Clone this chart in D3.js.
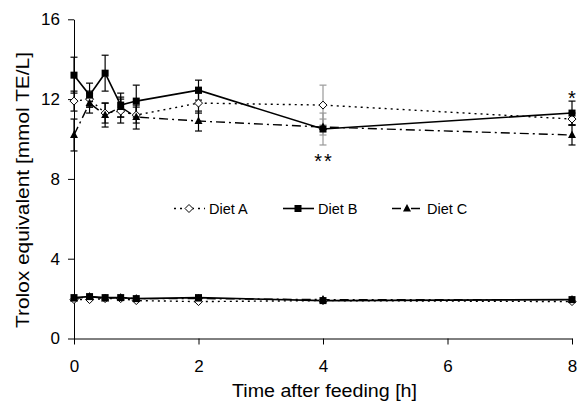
<!DOCTYPE html>
<html>
<head>
<meta charset="utf-8">
<script src="https://cdn.jsdelivr.net/npm/d3@7"></script>
<style>
  body { margin: 0; background: #fff; }
  svg { font-family: "Liberation Sans", Arial, sans-serif; }
</style>
</head>
<body>
<div id="chart"></div>
<script>
// time points (h)
var times = [0, 0.25, 0.5, 0.75, 1, 2, 4, 8]

// upper curves
var dietA_hi = [11.9, 12.0, 11.3, 11.4, 11.2, 11.8, 11.7, 11.0]
var dietB_hi = [13.2, 12.2, 13.3, 11.7, 11.9, 12.45, 10.5, 11.3]
var dietC_hi = [10.2, 11.8, 11.2, 11.6, 11.1, 10.9, 10.6, 10.2]
var errA_hi = [0.5, 0.4, 0.5, 0.6, 0.4, 0.5, 1.0, 0.3]
var errB_hi = [0.9, 0.6, 0.9, 0.6, 0.8, 0.5, 0.8, 0.6]
var errC_hi = [0.8, 0.5, 0.6, 0.5, 0.6, 0.5, 0.4, 0.5]

// lower curves
var dietA_lo = [1.95, 1.95, 2.0, 2.0, 1.9, 1.85, 1.9, 1.85]
var dietB_lo = [2.05, 2.1, 2.05, 2.05, 2.0, 2.05, 1.9, 1.95]
var dietC_lo = [2.0, 2.1, 2.0, 2.05, 2.0, 2.0, 1.95, 1.95]

var xTicks = [0, 2, 4, 6, 8]
var yTicks = [0, 4, 8, 12, 16]
var dietNames = ["Diet A", "Diet B", "Diet C"]

var W = 579, H = 402
var x = d3.scaleLinear().domain([0, 8]).range([74, 572])
var y = d3.scaleLinear().domain([0, 16]).range([338.5, 19.3])

var svg = d3.select("#chart").append("svg").attr("width", W).attr("height", H)

// axes
var yAxis = svg.append("g").attr("transform", "translate(" + x(0) + ",0)")
  .call(d3.axisLeft(y).tickValues(yTicks).tickSize(6).tickSizeOuter(0).tickPadding(8).tickFormat(d3.format("d")))
var xAxis = svg.append("g").attr("transform", "translate(0," + y(0) + ")")
  .call(d3.axisBottom(x).tickValues(xTicks).tickSize(6).tickSizeOuter(0).tickPadding(15).tickFormat(d3.format("d")))
svg.selectAll(".tick text").attr("font-size", 17).attr("fill", "#000").attr("font-family", "Liberation Sans, Arial, sans-serif")
svg.selectAll(".domain, .tick line").attr("stroke", "#000").attr("stroke-width", 1)

svg.append("text").attr("transform", "translate(29,190) rotate(-90)")
  .attr("text-anchor", "middle").attr("font-size", 18).attr("textLength", 276).attr("lengthAdjust", "spacingAndGlyphs")
  .text("Trolox equivalent [mmol TE/L]")
svg.append("text").attr("x", 324.5).attr("y", 397)
  .attr("text-anchor", "middle").attr("font-size", 17.5).attr("textLength", 185).attr("lengthAdjust", "spacingAndGlyphs")
  .text("Time after feeding [h]")

var styles = [
  { dash: "2,4", width: 1.4, marker: "diamond" },
  { dash: null, width: 1.6, marker: "square" },
  { dash: "9,4,2,4", width: 1.4, marker: "triangle" }
]

function drawMarker(g, type, cx, cy) {
  if (type == "square") {
    g.append("rect").attr("x", cx - 3.5).attr("y", cy - 3.5).attr("width", 7).attr("height", 7).attr("fill", "#000")
  } else if (type == "diamond") {
    g.append("path").attr("d", "M" + cx + "," + (cy - 4) + "L" + (cx + 4) + "," + cy + "L" + cx + "," + (cy + 4) + "L" + (cx - 4) + "," + cy + "Z")
      .attr("fill", "#fff").attr("stroke", "#000").attr("stroke-width", 1)
  } else {
    g.append("path").attr("d", "M" + cx + "," + (cy - 4.5) + "L" + (cx + 4) + "," + (cy + 3) + "L" + (cx - 4) + "," + (cy + 3) + "Z")
      .attr("fill", "#000")
  }
}

var line = d3.line().x((d) => x(d[0])).y((d) => y(d[1]))

function drawSet(vals, errs) {
  var g = svg.append("g")
  // error bars
  if (errs) {
    vals.forEach((series, si) => {
      series.forEach((v, i) => {
        var col = times[i] == 4 ? "#999" : "#000"
        var t = x(times[i])
        var e = errs[si][i]
        g.append("line").attr("x1", t).attr("x2", t).attr("y1", y(v - e)).attr("y2", y(v + e)).attr("stroke", col).attr("stroke-width", 1.2)
        ;[v - e, v + e].forEach((c) => {
          g.append("line").attr("x1", t - 3.5).attr("x2", t + 3.5).attr("y1", y(c)).attr("y2", y(c)).attr("stroke", col).attr("stroke-width", 1.2)
        })
      })
    })
  }
  vals.forEach((series, si) => {
    var pts = times.map((t, i) => [t, series[i]])
    g.append("path").attr("d", line(pts)).attr("fill", "none").attr("stroke", "#000")
      .attr("stroke-width", styles[si].width).attr("stroke-dasharray", styles[si].dash)
  })
  vals.forEach((series, si) => {
    series.forEach((v, i) => drawMarker(g, styles[si].marker, x(times[i]), y(v)))
  })
}

drawSet([dietA_lo, dietB_lo, dietC_lo], null)
drawSet([dietA_hi, dietB_hi, dietC_hi], [errA_hi, errB_hi, errC_hi])

// significance marks
svg.append("text").attr("x", x(4) + 1).attr("y", 168).attr("text-anchor", "middle").attr("font-size", 20)
  .attr("letter-spacing", 2).text("**")
svg.append("text").attr("x", x(8)).attr("y", 105).attr("text-anchor", "middle").attr("font-size", 20).text("*")

// legend
var legX = [174, 283, 392]
var legY = 208.5
dietNames.forEach((name, i) => {
  var lg = svg.append("g")
  lg.append("line").attr("x1", legX[i]).attr("x2", legX[i] + 31).attr("y1", legY).attr("y2", legY)
    .attr("stroke", "#000").attr("stroke-width", styles[i].width).attr("stroke-dasharray", styles[i].dash)
  drawMarker(lg, styles[i].marker, legX[i] + 15, legY)
  lg.append("text").attr("x", legX[i] + 35).attr("y", legY + 5.5).attr("font-size", 14.5).text(name)
})
</script>
</body>
</html>
